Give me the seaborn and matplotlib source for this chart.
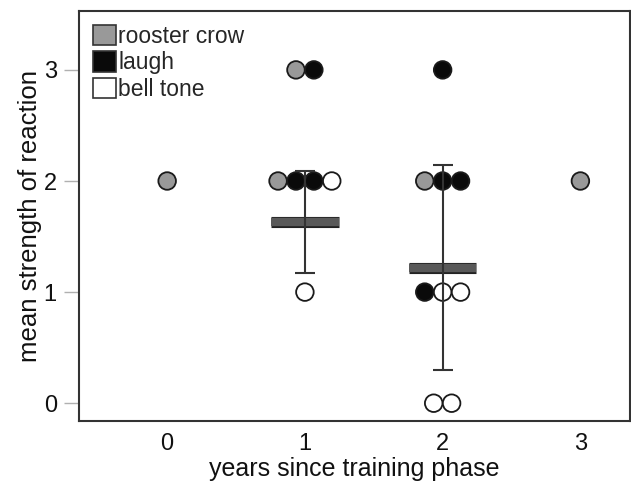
import numpy as np
import pandas as pd
import matplotlib
matplotlib.use("Agg")
import matplotlib.pyplot as plt
import matplotlib.patheffects as pe
from matplotlib.patches import Patch
import seaborn as sns

# ---- data ----
categories = ["rooster crow", "laugh", "bell tone"]
years = [0,
         1, 1, 1, 1, 1, 1, 1,
         2, 2, 2, 2, 2, 2, 2, 2, 2,
         3]
stimulus = ["rooster crow",
            "rooster crow", "laugh", "rooster crow", "laugh", "laugh", "bell tone", "bell tone",
            "laugh", "rooster crow", "laugh", "laugh", "laugh", "bell tone", "bell tone",
            "bell tone", "bell tone",
            "rooster crow"]
strength = [2,
            3, 3, 2, 2, 2, 2, 1,
            3, 2, 2, 2, 1, 1, 1, 0, 0,
            2]
mean_years = [1, 2]
mean_values = [1.63, 1.22]
sd_values = [0.46, 0.92]
xtick_labels = ["0", "1", "2", "3"]
yticks = [0, 1, 2, 3]

fills = {"rooster crow": "#999999", "laugh": "#0a0a0a", "bell tone": "#ffffff"}

df = pd.DataFrame({"year": years, "stimulus": stimulus, "strength": strength})
order = {c: i for i, c in enumerate(categories)}
df["rank_cat"] = df["stimulus"].map(order)
df = df.sort_values(["year", "strength", "rank_cat"], kind="stable")
step = 0.13
df["r"] = df.groupby(["year", "strength"]).cumcount()
df["n"] = df.groupby(["year", "strength"])["strength"].transform("size")
df["xpos"] = df["year"] + (df["r"] - (df["n"] - 1) / 2) * step

sns.set_style("white")
plt.rcParams["font.family"] = ["Liberation Sans", "DejaVu Sans"]

fig = plt.figure(figsize=(6.31, 4.83), dpi=100)
ax = fig.add_axes([0.1252, 0.1284, 0.8732, 0.8488])

sns.scatterplot(data=df, x="xpos", y="strength", hue="stimulus", hue_order=categories,
                palette=fills, s=160, edgecolor="#1a1a1a", linewidth=1.3,
                legend=False, ax=ax, zorder=3)

# mean bars
half = 0.245
ax.hlines(mean_values, [m - half for m in mean_years], [m + half for m in mean_years],
          colors="#595959", linewidth=6, zorder=4,
          path_effects=[pe.Stroke(linewidth=8, foreground="#222222", capstyle="butt"),
                        pe.Normal()], capstyle="butt")
ax.errorbar(mean_years, mean_values, yerr=sd_values, fmt="none", ecolor="#333333",
            elinewidth=1.5, capsize=7, capthick=1.5, zorder=5)

ax.set_xlim(-0.64, 3.36)
ax.set_ylim(-0.16, 3.53)
ax.set_xticks([0, 1, 2, 3])
ax.set_xticklabels(xtick_labels)
ax.set_yticks(yticks)
ax.tick_params(axis="x", length=0, labelsize=17, pad=9, colors="#111111")
ax.tick_params(axis="y", length=11, width=1, color="#b0b0b0", labelsize=17, pad=5,
               labelcolor="#111111", left=True, direction="out")
ax.set_xlabel("years since training phase", fontsize=18, color="#111111", labelpad=1)
ax.set_ylabel("mean strength of reaction", fontsize=18.5, color="#111111", labelpad=1)
for s in ax.spines.values():
    s.set_visible(True)
    s.set_color("#333333")
    s.set_linewidth(1.5)

handles = [Patch(facecolor=fills[c], edgecolor="#333333", linewidth=1.2, label=c)
           for c in categories]
ax.legend(handles=handles, loc="upper left", frameon=False, fontsize=16.5,
          handlelength=1.0, handleheight=1.0, handletextpad=0.12,
          labelspacing=0.15, borderaxespad=0.3, borderpad=0.3)

fig.savefig("out.png", dpi=100)
